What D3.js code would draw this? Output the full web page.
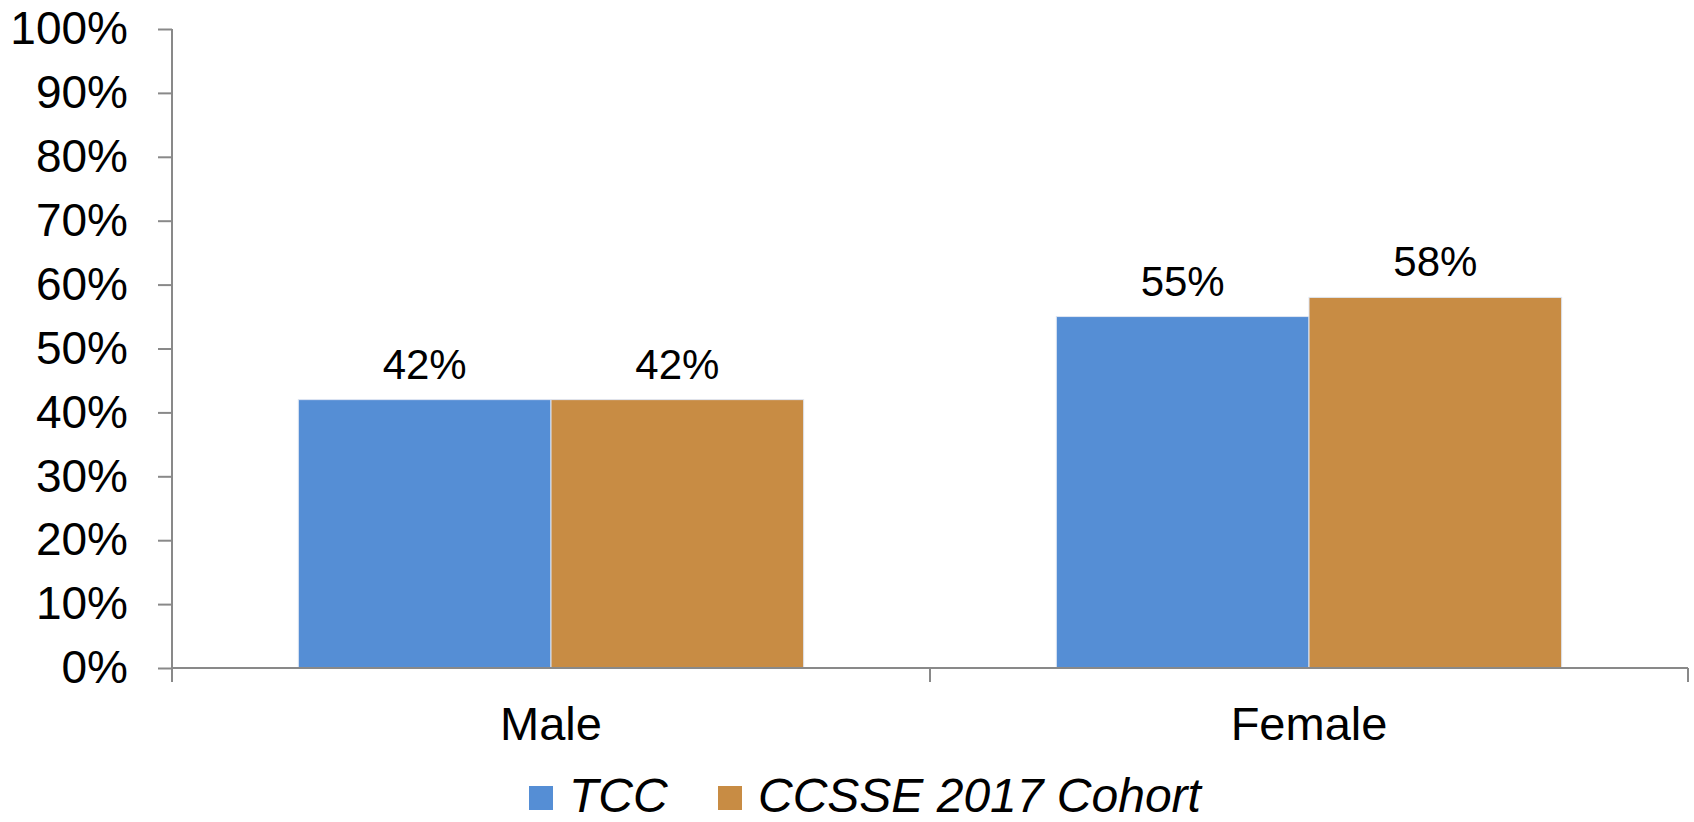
<!doctype html>
<html>
<head>
    <meta charset="utf-8">
    <title>TCC vs CCSSE 2017 Cohort by gender</title>
    <script src="https://cdnjs.cloudflare.com/ajax/libs/d3/7.8.5/d3.min.js"></script>
    <style>
        body {
            margin: 0;
            background: #fff;
            font-family: 'Liberation Sans', Arial, sans-serif;
        }
        text {
            fill: #000;
        }
    </style>
</head>
<body>
    <div id="chart"></div>
    <script>
        // chart data
        var categories = ["Male", "Female"];
        var seriesNames = ["TCC", "CCSSE 2017 Cohort"];
        var tccValues = [42, 55];
        var cohortValues = [42, 58];
        var yTicks = [0, 10, 20, 30, 40, 50, 60, 70, 80, 90, 100];
        var colors = ["#558ED5", "#C88C44"];

        var width = 1694;
        var height = 822;
        var margin = { top: 29, right: 6, bottom: 154, left: 172 };

        var data = categories.map(function (c, i) {
            return { category: c, values: [tccValues[i], cohortValues[i]] };
        });

        var svg = d3.select("#chart").append("svg")
            .attr("width", width)
            .attr("height", height);

        var xScale = d3.scaleBand(categories, [margin.left, width - margin.right]);
        var xInner = d3.scaleBand(seriesNames, [0, xScale.bandwidth()])
            .paddingInner(0)
            .paddingOuter(0.5);
        var yScale = d3.scaleLinear([0, 100], [height - margin.bottom, margin.top]);

        var axisColor = "#898989";

        // bars
        var groups = svg.append("g").attr("class", "bars")
            .selectAll("g")
            .data(data)
            .join("g")
            .attr("transform", d => `translate(${xScale(d.category)},0)`);

        groups.selectAll("rect")
            .data(d => d.values.map((v, i) => ({ key: seriesNames[i], value: v, color: colors[i] })))
            .join("rect")
            .attr("x", d => xInner(d.key))
            .attr("y", d => yScale(d.value))
            .attr("width", xInner.bandwidth())
            .attr("height", d => yScale(0) - yScale(d.value))
            .attr("fill", d => d.color)
            .attr("stroke", "#dfe6f2")
            .attr("stroke-width", 1);

        groups.selectAll("text")
            .data(d => d.values.map((v, i) => ({ key: seriesNames[i], value: v })))
            .join("text")
            .attr("x", d => xInner(d.key) + xInner.bandwidth() / 2)
            .attr("y", d => yScale(d.value) - 21)
            .attr("text-anchor", "middle")
            .style("font-size", "42px")
            .text(d => d.value + "%");

        // y axis
        var yAxis = d3.axisLeft(yScale)
            .tickValues(yTicks)
            .tickFormat(d => d + "%")
            .tickSize(14)
            .tickPadding(30)
            .tickSizeOuter(0);

        var yg = svg.append("g").attr("class", "y-axis")
            .attr("transform", `translate(${margin.left},0)`)
            .call(yAxis);
        yg.select(".domain").remove();
        yg.selectAll(".tick line").attr("stroke", axisColor).attr("stroke-width", 2);
        yg.selectAll(".tick text")
            .style("font-size", "46px")
            .style("font-family", "'Liberation Sans', Arial, sans-serif")
            .attr("fill", "#000");
        yg.append("line")
            .attr("x1", 0).attr("x2", 0)
            .attr("y1", yScale(100)).attr("y2", yScale(0) + 14)
            .attr("stroke", axisColor).attr("stroke-width", 2);

        // x axis
        var xg = svg.append("g").attr("class", "x-axis")
            .attr("transform", `translate(0,${yScale(0)})`);
        xg.append("line")
            .attr("x1", margin.left).attr("x2", width - margin.right)
            .attr("y1", 0).attr("y2", 0)
            .attr("stroke", axisColor).attr("stroke-width", 2);
        var bounds = categories.map(c => xScale(c)).concat([xScale(categories[categories.length - 1]) + xScale.bandwidth()]);
        xg.selectAll(".xtick")
            .data(bounds)
            .join("line")
            .attr("class", "xtick")
            .attr("x1", d => d).attr("x2", d => d)
            .attr("y1", 0).attr("y2", 14)
            .attr("stroke", axisColor).attr("stroke-width", 2);
        xg.selectAll(".xlabel")
            .data(categories)
            .join("text")
            .attr("class", "xlabel")
            .attr("x", d => xScale(d) + xScale.bandwidth() / 2)
            .attr("y", 72)
            .attr("text-anchor", "middle")
            .style("font-size", "47px")
            .text(d => d);

        // legend
        var legendX = [529, 718];
        var legend = svg.append("g").attr("class", "legend");
        var items = legend.selectAll("g")
            .data(seriesNames)
            .join("g")
            .attr("transform", (d, i) => `translate(${legendX[i]},786)`);
        items.append("rect")
            .attr("width", 24)
            .attr("height", 24)
            .attr("fill", (d, i) => colors[i]);
        items.append("text")
            .attr("x", 40)
            .attr("y", 26)
            .style("font-size", "48px")
            .style("font-style", "italic")
            .text(d => d);
    </script>
</body>
</html>
